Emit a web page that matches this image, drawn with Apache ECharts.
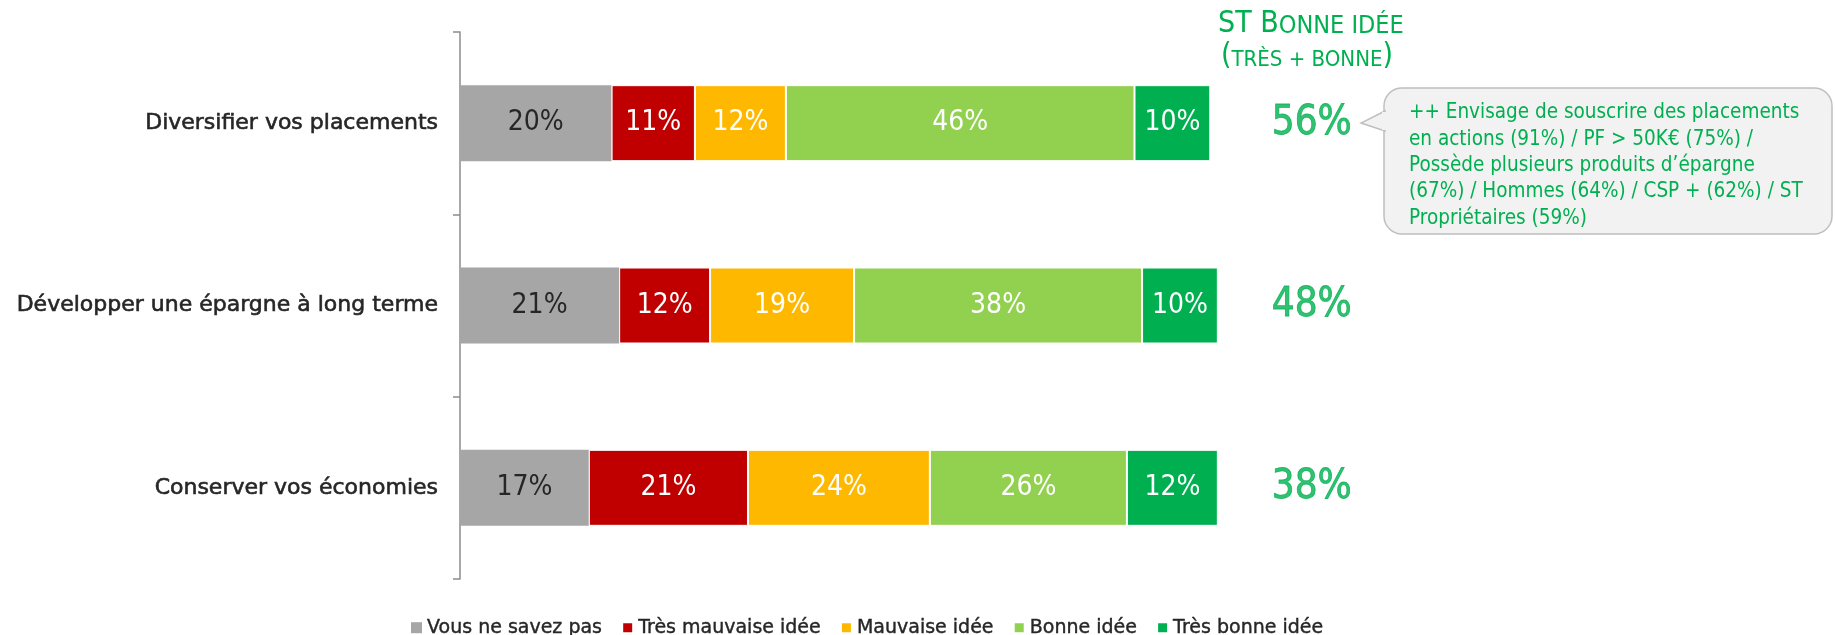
<!DOCTYPE html>
<html>
<head>
<meta charset="utf-8">
<script src="https://cdn.jsdelivr.net/npm/echarts@6/dist/echarts.min.js"></script>
<style>
  html, body { margin: 0; padding: 0; background: #ffffff; }
  #chart { width: 1835px; height: 635px; }
</style>
</head>
<body>
<div id="chart"></div>
<script>
// Survey answers per proposal (percent)
const categories = [
  'Diversifier vos placements',
  'Développer une épargne à long terme',
  'Conserver vos économies'
];
const seriesNames = ['Vous ne savez pas', 'Très mauvaise idée', 'Mauvaise idée', 'Bonne idée', 'Très bonne idée'];
const nspValues = [20, 21, 17];
const tresMauvaiseValues = [11, 12, 21];
const mauvaiseValues = [12, 19, 24];
const bonneValues = [46, 38, 26];
const tresBonneValues = [10, 10, 12];
// Sub-total "Bonne idée" (très + bonne)
const stBonneValues = [56, 48, 38];

const seriesValues = [nspValues, tresMauvaiseValues, mauvaiseValues, bonneValues, tresBonneValues];
const colors = ['#A6A6A6', '#C00000', '#FFB800', '#92D050', '#00B050'];
const labelColors = ['#262626', '#ffffff', '#ffffff', '#ffffff', '#ffffff'];

const NARROW = '"Liberation Sans Narrow", "DejaVu Sans Condensed", sans-serif';
const GREEN = '#00B050';
const ST_COLUMN_X = 112.4;   // x-axis position of the sub-total column

const chart = echarts.init(document.getElementById('chart'), null, { renderer: 'canvas' });

const barSeries = seriesValues.map((vals, i) => ({
  name: seriesNames[i],
  type: 'bar',
  stack: 'total',
  barWidth: 76,
  data: vals,
  itemStyle: {
    color: colors[i],
    borderColor: '#ffffff',
    borderWidth: i === 0 ? 0 : 1
  },
  label: {
    show: true,
    position: 'inside',
    formatter: p => p.value + '%',
    color: labelColors[i],
    fontFamily: NARROW,
    fontSize: 28
  },
  emphasis: { disabled: true }
}));

const stSeries = {
  name: 'ST',
  type: 'scatter',
  symbolSize: 0,
  silent: true,
  data: stBonneValues.map((v, i) => ({ value: [ST_COLUMN_X, categories[i]], st: v })),
  label: {
    show: true,
    position: 'inside',
    formatter: p => p.data.st + '%',
    color: GREEN,
    fontFamily: NARROW,
    fontSize: 40,
    textBorderColor: GREEN,
    textBorderWidth: 0.8
  }
};

const calloutLines = [
  '++ Envisage de souscrire des placements',
  'en actions (91%) / PF > 50K€ (75%) /',
  'Possède plusieurs produits d’épargne',
  '(67%) / Hommes (64%) / CSP + (62%) / ST',
  'Propriétaires (59%)'
];

const option = {
  backgroundColor: '#ffffff',
  animation: false,
  grid: { left: 460, top: 32, height: 547, width: 1061, containLabel: false },
  xAxis: {
    type: 'value',
    min: 0,
    max: 140,
    show: false
  },
  yAxis: {
    type: 'category',
    data: categories,
    inverse: true,
    axisLine: { show: true, lineStyle: { color: '#8C8C8C', width: 1.5 } },
    axisTick: { show: true, length: 7, lineStyle: { color: '#8C8C8C', width: 1.5 } },
    axisLabel: {
      margin: 22,
      color: '#262626',
      fontFamily: '"DejaVu Sans", sans-serif',
      fontSize: 22,
      textBorderColor: '#262626',
      textBorderWidth: 0.6
    },
    splitLine: { show: false }
  },
  legend: {
    data: seriesNames,
    left: 406,
    top: 613,
    icon: 'rect',
    itemWidth: 11,
    itemHeight: 11,
    itemGap: 19,
    textStyle: {
      color: '#262626',
      fontFamily: '"DejaVu Sans", sans-serif',
      fontSize: 19,
      textBorderColor: '#262626',
      textBorderWidth: 0.4
    },
    selectedMode: false
  },
  graphic: [
    {
      type: 'text',
      left: 1218,
      top: 9,
      style: {
        text: '{a|ST B}{b|ONNE IDÉE}',
        rich: {
          a: { fontFamily: NARROW, fontSize: 30, fill: GREEN, verticalAlign: 'bottom' },
          b: { fontFamily: NARROW, fontSize: 25, fill: GREEN, verticalAlign: 'bottom' }
        }
      }
    },
    {
      type: 'text',
      left: 1221,
      top: 41,
      style: {
        text: '{a|(}{b|TRÈS + BONNE}{a|)}',
        rich: {
          a: { fontFamily: NARROW, fontSize: 30, fill: GREEN, verticalAlign: 'bottom' },
          b: { fontFamily: NARROW, fontSize: 22, fill: GREEN, verticalAlign: 'bottom' }
        }
      }
    },
    // callout bubble
    {
      type: 'rect',
      shape: { x: 1384, y: 88, width: 448, height: 146, r: 18 },
      style: { fill: '#F2F2F2', stroke: '#BFBFBF', lineWidth: 1.5 },
      z: 10
    },
    {
      type: 'polygon',
      shape: { points: [[1385, 111], [1361, 123], [1385, 131]] },
      style: { fill: '#F2F2F2', stroke: '#BFBFBF', lineWidth: 1.5 },
      z: 11
    },
    {
      type: 'rect',
      shape: { x: 1382, y: 112, width: 5, height: 18 },
      style: { fill: '#F2F2F2' },
      z: 12
    },
    {
      type: 'text',
      x: 1409,
      y: 100,
      z: 13,
      style: {
        text: calloutLines.join('\n'),
        fill: GREEN,
        fontFamily: '"DejaVu Sans Condensed", sans-serif',
        fontSize: 20.5,
        lineHeight: 26.3,
        verticalAlign: 'top'
      }
    }
  ],
  series: [...barSeries, stSeries]
};

chart.setOption(option);
</script>
</body>
</html>
